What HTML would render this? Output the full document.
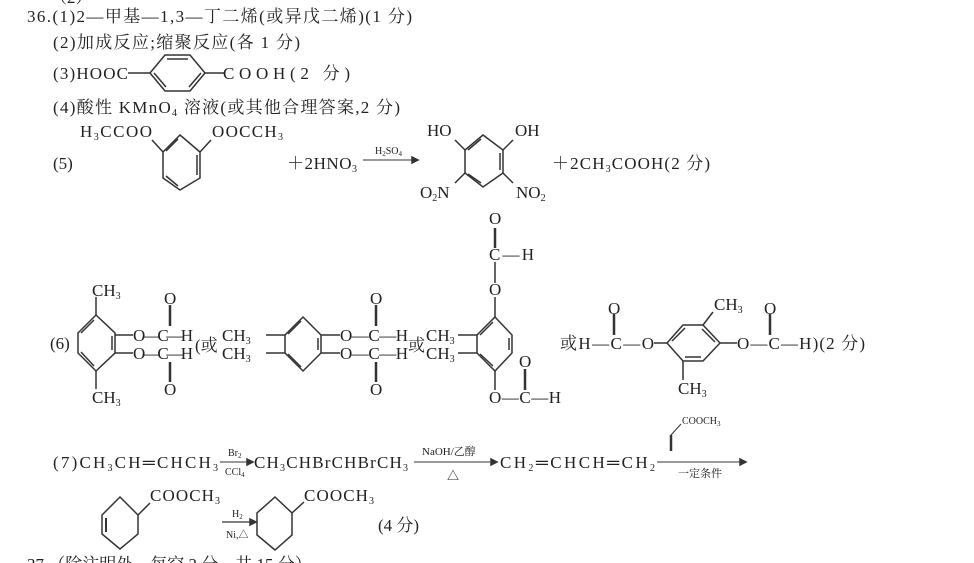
<!DOCTYPE html>
<html><head><meta charset="utf-8"><style>
html,body{margin:0;padding:0;background:#fff;}
svg{display:block;}
text{font-family:"Liberation Serif","Noto Serif CJK SC",serif;font-size:17px;fill:#222;}
.s{font-size:10px;}
line,polyline,polygon{stroke:#333;stroke-width:1.5;fill:none;}
</style></head><body>
<svg width="974" height="563" viewBox="0 0 974 563" xmlns="http://www.w3.org/2000/svg">
<text x="50" y="3">（2）</text>
<text x="27" y="22" textLength="385" lengthAdjust="spacing">36.(1)2—甲基—1,3—丁二烯(或异戊二烯)(1 分)</text>
<text x="53" y="48" textLength="247" lengthAdjust="spacing">(2)加成反应;缩聚反应(各 1 分)</text>
<text x="53" y="79" textLength="75" lengthAdjust="spacing">(3)HOOC</text>
<line x1="128" y1="73" x2="150" y2="73"/>
<polygon points="150,73 165,55 190,55 205,73 190,91 165,91"/>
<line x1="167" y1="59" x2="188" y2="59"/><line x1="154" y1="73" x2="166" y2="87"/><line x1="189" y1="87" x2="201" y2="73"/>
<line x1="205" y1="73" x2="224" y2="73"/>
<text x="223" y="79" textLength="127" lengthAdjust="spacing">COOH(2 分)</text>
<text x="53" y="113" textLength="347" lengthAdjust="spacing">(4)酸性 KMnO<tspan class="s" dy="3">4</tspan><tspan dy="-3"> 溶液(或其他合理答案,2 分)</tspan></text>
<text x="80" y="137" textLength="72" lengthAdjust="spacing">H<tspan class="s" dy="3">3</tspan><tspan dy="-3">CCOO</tspan></text>
<text x="212" y="137" textLength="71" lengthAdjust="spacing">OOCCH<tspan class="s" dy="3">3</tspan></text>
<polygon points="180,135 200,152 200,178 180,190 163,178 163,152"/>
<line x1="178" y1="139" x2="166" y2="151"/><line x1="197" y1="155" x2="197" y2="175"/><line x1="166" y1="176" x2="178" y2="186"/>
<line x1="163" y1="152" x2="152" y2="140"/><line x1="200" y1="152" x2="211" y2="140"/>
<text x="53" y="169">(5)</text>
<text x="287" y="169" textLength="70" lengthAdjust="spacing">＋2HNO<tspan class="s" dy="3">3</tspan></text>
<line x1="363" y1="160" x2="412" y2="160" style="stroke-width:1"/><polygon points="412,157 418,160 412,163" style="fill:#333"/>
<text x="375" y="154" class="s">H<tspan dy="2" style="font-size:7px">2</tspan><tspan dy="-2">SO</tspan><tspan dy="2" style="font-size:7px">4</tspan></text>
<polygon points="483,135 503,150 503,173 483,187 465,173 465,150"/>
<line x1="481" y1="139" x2="468" y2="150"/><line x1="500" y1="153" x2="500" y2="170"/><line x1="468" y1="174" x2="481" y2="183"/>
<line x1="465" y1="150" x2="455" y2="140"/><line x1="503" y1="150" x2="513" y2="140"/>
<line x1="465" y1="173" x2="455" y2="183"/><line x1="503" y1="173" x2="513" y2="183"/>
<text x="427" y="136">HO</text><text x="515" y="136">OH</text>
<text x="420" y="198">O<tspan class="s" dy="3">2</tspan><tspan dy="-3">N</tspan></text>
<text x="516" y="198">NO<tspan class="s" dy="3">2</tspan></text>
<text x="552" y="169" textLength="158" lengthAdjust="spacing">＋2CH<tspan class="s" dy="3">3</tspan><tspan dy="-3">COOH(2 分)</tspan></text>
<text x="50" y="349">(6)</text>
<polygon points="96,315 115,333 115,353 96,371 78,353 78,333"/>
<line x1="94" y1="320" x2="81" y2="333"/><line x1="81" y1="352" x2="94" y2="366"/><line x1="112" y1="336" x2="112" y2="350"/>
<line x1="96" y1="315" x2="96" y2="297"/><line x1="96" y1="371" x2="96" y2="389"/>
<text x="92" y="296">CH<tspan class="s" dy="3">3</tspan></text><text x="92" y="403">CH<tspan class="s" dy="3">3</tspan></text>
<line x1="115" y1="335" x2="133" y2="335"/><line x1="115" y1="353" x2="133" y2="353"/>
<text x="133" y="341" textLength="60" lengthAdjust="spacing">O—C—H</text><text x="133" y="359" textLength="60" lengthAdjust="spacing">O—C—H</text>
<line x1="170" y1="305" x2="170" y2="326" style="stroke-width:2.5"/><line x1="170" y1="362" x2="170" y2="382" style="stroke-width:2.5"/>
<text x="164" y="304">O</text><text x="164" y="395">O</text>
<text x="195" y="351">(或</text>
<text x="222" y="341">CH<tspan class="s" dy="3">3</tspan></text><text x="222" y="359">CH<tspan class="s" dy="3">3</tspan></text>
<polygon points="303,317 321,335 321,353 303,371 285,353 285,335"/>
<line x1="301" y1="321" x2="288" y2="334"/><line x1="288" y1="354" x2="301" y2="367"/><line x1="318" y1="338" x2="318" y2="350"/>
<line x1="266" y1="335" x2="285" y2="335"/><line x1="266" y1="353" x2="285" y2="353"/>
<line x1="321" y1="335" x2="340" y2="335"/><line x1="321" y1="353" x2="340" y2="353"/>
<text x="340" y="341" textLength="68" lengthAdjust="spacing">O—C—H</text><text x="340" y="359" textLength="68" lengthAdjust="spacing">O—C—H</text>
<line x1="376" y1="305" x2="376" y2="326" style="stroke-width:2.5"/><line x1="376" y1="362" x2="376" y2="382" style="stroke-width:2.5"/>
<text x="370" y="304">O</text><text x="370" y="395">O</text>
<text x="408" y="351">或</text>
<text x="426" y="341">CH<tspan class="s" dy="3">3</tspan></text><text x="426" y="359">CH<tspan class="s" dy="3">3</tspan></text>
<polygon points="495,317 512,335 512,353 495,371 477,353 477,335"/>
<line x1="493" y1="322" x2="480" y2="335"/><line x1="480" y1="354" x2="493" y2="366"/><line x1="509" y1="338" x2="509" y2="350"/>
<line x1="458" y1="335" x2="477" y2="335"/><line x1="458" y1="353" x2="477" y2="353"/>
<line x1="495" y1="317" x2="495" y2="297"/><text x="489" y="295">O</text>
<line x1="495" y1="283" x2="495" y2="262"/><text x="489" y="260" textLength="45" lengthAdjust="spacing">C—H</text>
<line x1="495" y1="248" x2="495" y2="228" style="stroke-width:2.5"/><text x="489" y="224">O</text>
<line x1="495" y1="371" x2="495" y2="390"/>
<text x="489" y="403" textLength="72" lengthAdjust="spacing">O—C—H</text>
<line x1="525" y1="369" x2="525" y2="390" style="stroke-width:2.5"/><text x="519" y="367">O</text>
<text x="560" y="349" textLength="94" lengthAdjust="spacing">或H—C—O</text>
<line x1="614" y1="314" x2="614" y2="335" style="stroke-width:2.5"/><text x="608" y="314">O</text>
<line x1="654" y1="343" x2="667" y2="343"/>
<polygon points="667,343 683,325 703,325 720,343 703,361 683,361"/>
<line x1="672" y1="341" x2="685" y2="328"/><line x1="702" y1="329" x2="715" y2="342"/><line x1="685" y1="357" x2="701" y2="357"/>
<line x1="703" y1="325" x2="713" y2="312"/><line x1="683" y1="361" x2="683" y2="380"/>
<text x="714" y="310">CH<tspan class="s" dy="3">3</tspan></text><text x="678" y="394">CH<tspan class="s" dy="3">3</tspan></text>
<line x1="720" y1="343" x2="737" y2="343"/>
<text x="737" y="349" textLength="128" lengthAdjust="spacing">O—C—H)(2 分)</text>
<line x1="770" y1="314" x2="770" y2="335" style="stroke-width:2.5"/><text x="764" y="314">O</text>
<text x="53" y="468" textLength="165" lengthAdjust="spacing">(7)CH<tspan class="s" dy="3">3</tspan><tspan dy="-3">CH═CHCH</tspan><tspan class="s" dy="3">3</tspan></text>
<line x1="220" y1="462" x2="247" y2="462" style="stroke-width:1"/><polygon points="247,459 253,462 247,465" style="fill:#333"/>
<text x="228" y="456" class="s">Br<tspan dy="2" style="font-size:7px">2</tspan></text>
<text x="225" y="475" class="s">CCl<tspan dy="2" style="font-size:7px">4</tspan></text>
<text x="254" y="468" textLength="154" lengthAdjust="spacing">CH<tspan class="s" dy="3">3</tspan><tspan dy="-3">CHBrCHBrCH</tspan><tspan class="s" dy="3">3</tspan></text>
<line x1="414" y1="462" x2="491" y2="462" style="stroke-width:1"/><polygon points="491,459 497,462 491,465" style="fill:#333"/>
<text x="422" y="455" class="s" style="font-size:11px">NaOH/乙醇</text>
<text x="447" y="480" class="s" style="font-size:12px">△</text>
<text x="500" y="468" textLength="155" lengthAdjust="spacing">CH<tspan class="s" dy="3">2</tspan><tspan dy="-3">═CHCH═CH</tspan><tspan class="s" dy="3">2</tspan></text>
<line x1="657" y1="462" x2="740" y2="462" style="stroke-width:1"/><polygon points="740,459 746,462 740,465" style="fill:#333"/>
<line x1="671" y1="435" x2="671" y2="451" style="stroke-width:2.5"/><line x1="671" y1="435" x2="681" y2="424" style="stroke-width:1"/>
<text x="682" y="424" class="s">COOCH<tspan dy="2" style="font-size:7px">3</tspan></text>
<text x="678" y="477" class="s" style="font-size:11px">一定条件</text>
<polygon points="120,497 138,515 138,534 120,549 102,534 102,515"/>
<line x1="106" y1="518" x2="106" y2="532" style="stroke-width:2"/>
<line x1="138" y1="515" x2="150" y2="503"/>
<text x="150" y="501" textLength="70" lengthAdjust="spacing">COOCH<tspan class="s" dy="3">3</tspan></text>
<line x1="222" y1="522" x2="250" y2="522" style="stroke-width:1.2"/><polygon points="250,519 256,522 250,525" style="fill:#333"/>
<text x="232" y="517" class="s">H<tspan dy="2" style="font-size:7px">2</tspan></text>
<text x="226" y="538" class="s">Ni,△</text>
<polygon points="275,497 292,513 292,535 275,550 257,535 257,513"/>
<line x1="292" y1="513" x2="304" y2="502"/>
<text x="304" y="501" textLength="70" lengthAdjust="spacing">COOCH<tspan class="s" dy="3">3</tspan></text>
<text x="378" y="531">(4 分)</text>
<text x="27" y="570">37.（除注明外，每空 2 分，共 15 分）</text>
</svg>
</body></html>
